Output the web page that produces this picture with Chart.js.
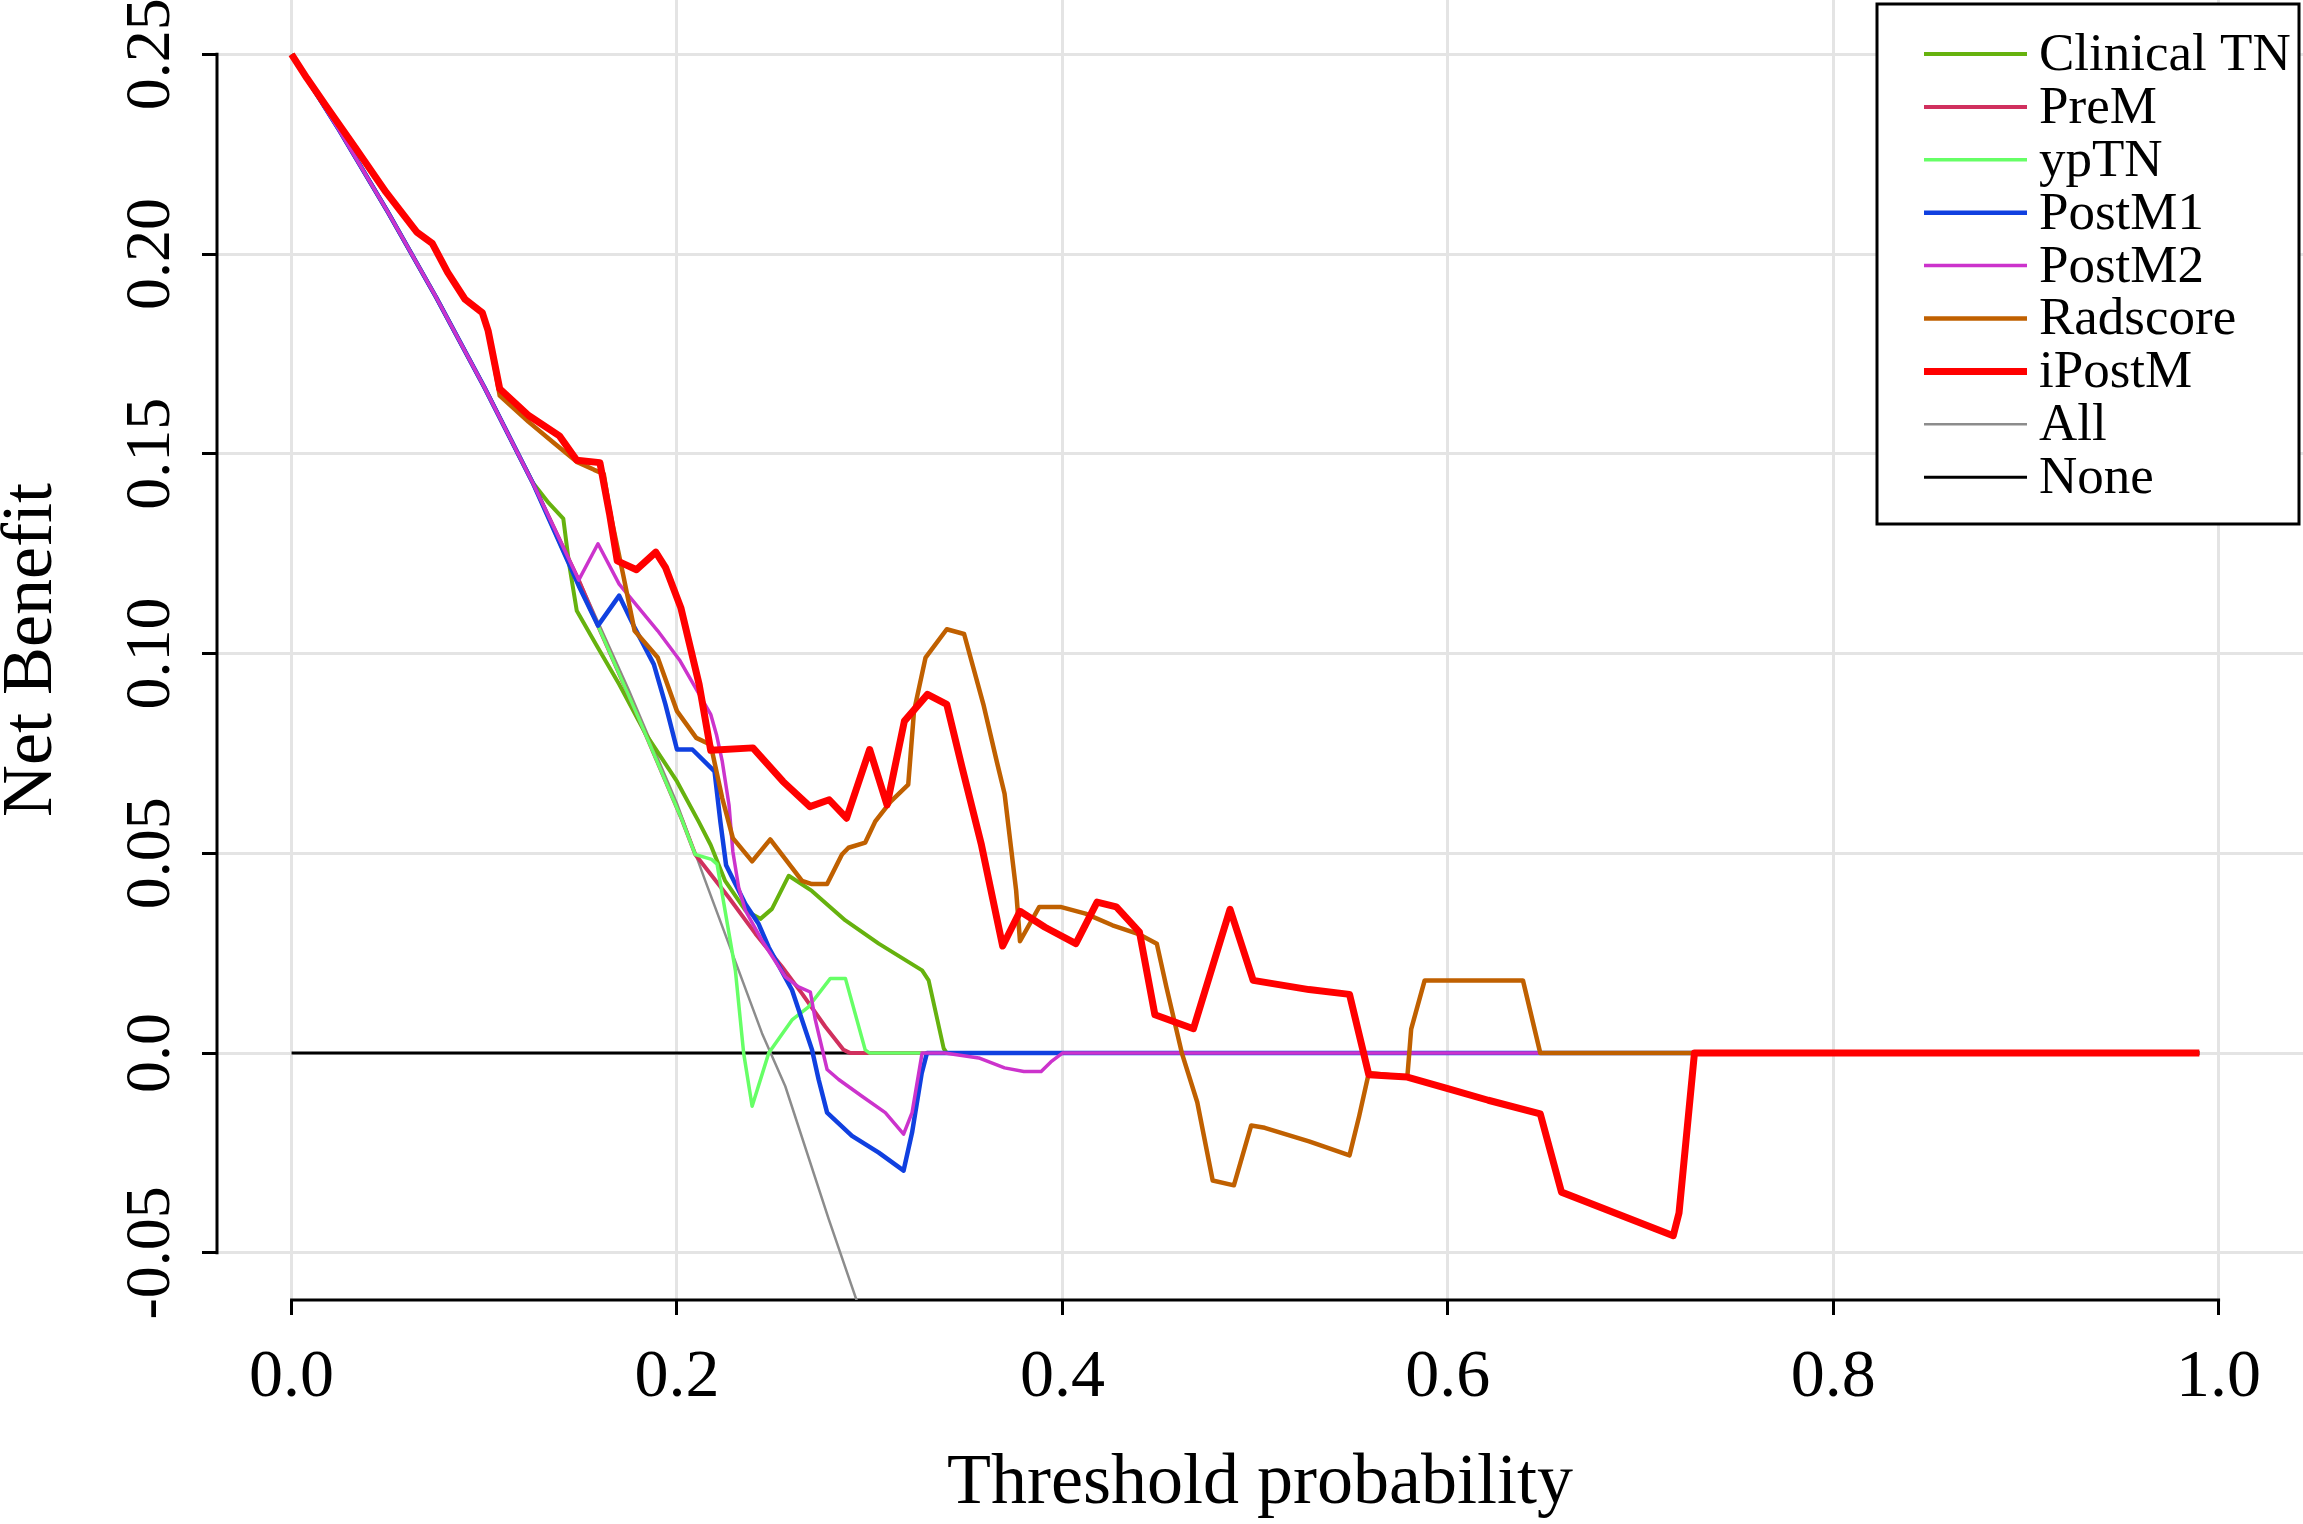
<!DOCTYPE html>
<html lang="en">
<head>
    <meta charset="UTF-8">
    <title>Decision curve</title>
    <script src="https://cdn.jsdelivr.net/npm/chart.js"></script>
    <style>
        html, body { margin: 0; padding: 0; background: #ffffff; }
        #wrap { width: 2303px; height: 1524px; position: relative; }
    </style>
</head>
<body>
    <div id="wrap"><canvas id="dca"></canvas></div>

    <script>
        // tick labels
        const xTicks = [0, 0.2, 0.4, 0.6, 0.8, 1.0];
        const yTicks = [-0.05, 0, 0.05, 0.10, 0.15, 0.20, 0.25];

        // series (threshold probability, net benefit)
        const clinicalX = [0, .025, .05, .075, .10, .125, .1334, .141, .144, .148, .158, .17, .184, .2, .2112, .2175, .225, .2355, .2433, .2493, .258, .27, .2874, .3047, .3272, .3306, .3384, .34, .99];
        const clinicalY = [.25, .2308, .2105, .1892, .1667, .1429, .1377, .1338, .1225, .1107, .1023, .0923, .0797, .068, .058, .0521, .0431, .0357, .0336, .0361, .0444, .0406, .0332, .0274, .0207, .0182, .0012, 0, 0];

        const premX = [0, .025, .05, .075, .10, .125, .149, .159, .18, .2026, .2095, .2268, .2407, .2545, .2649, .277, .2865, .29, .99];
        const premY = [.25, .2308, .2105, .1892, .1667, .1429, .1184, .107, .084, .0584, .0497, .039, .0299, .0216, .0149, .0066, .0008, 0, 0];

        const yptnX = [0, .025, .05, .075, .10, .125, .149, .159, .18, .2026, .2095, .218, .2208, .2303, .2346, .239, .2476, .2597, .2683, .2796, .2874, .2977, .30, .99];
        const yptnY = [.25, .2308, .2105, .1892, .1667, .1429, .117, .107, .084, .0584, .0497, .0485, .0473, .0207, 0, -.0133, 0, .0083, .0116, .0187, .0187, .0008, 0, 0];

        const postm1X = [0, .025, .05, .075, .10, .125, .149, .159, .17, .178, .188, .194, .2, .208, .2195, .2225, .2255, .2355, .2424, .2476, .2597, .2701, .2735, .2779, .2908, .3047, .3176, .322, .327, .3297, .99];
        const postm1Y = [.25, .2308, .2105, .1892, .1667, .1429, .117, .107, .1145, .1065, .0973, .0873, .076, .076, .0705, .058, .047, .0373, .0323, .0265, .0158, .0008, -.0066, -.0149, -.0207, -.0249, -.0294, -.0199, -.005, 0, 0];

        const postm2X = [0, .025, .05, .075, .10, .125, .149, .159, .17, .19, .2016, .2175, .2205, .2235, .227, .229, .232, .2355, .2441, .2562, .2631, .2692, .2718, .2779, .2839, .296, .3081, .3176, .322, .3272, .339, .3566, .37, .38, .389, .394, .40, .99];
        const postm2Y = [.25, .2308, .2105, .1892, .1667, .1429, .1184, .1275, .1174, .1057, .0982, .0848, .0797, .073, .0621, .0504, .0415, .0357, .0282, .0191, .0166, .0153, .0083, -.0041, -.0066, -.0108, -.0149, -.0203, -.0149, 0, 0, -.0012, -.0037, -.0046, -.0046, -.0022, 0, 0];

        const radX = [0, .008, .018, .033, .049, .065, .073, .081, .09, .099, .102, .108, .123, .136, .148, .157, .162, .165, .172, .178, .19, .2, .21, .2175, .2235, .229, .239, .2484, .2649, .27, .2779, .2856, .289, .2977, .3029, .311, .32, .323, .329, .34, .349, .359, .366, .37, .376, .378, .388, .399, .412, .426, .44, .449, .454, .462, .47, .478, .489, .498, .505, .528, .549, .554, .559, .579, .581, .588, .639, .648, .99];
        const radY = [.25, .244, .237, .2267, .2155, .2055, .2027, .1954, .1887, .1853, .1808, .1646, .158, .1528, .148, .146, .145, .136, .1199, .1057, .099, .0856, .0789, .0772, .0638, .0538, .048, .0535, .0431, .0423, .0423, .0497, .0514, .0527, .058, .063, .0672, .0856, .099, .1061, .1049, .0873, .0729, .0649, .0407, .028, .0366, .0366, .0349, .032, .0297, .0274, .0165, 0, -.0123, -.0319, -.0331, -.0181, -.0187, -.0221, -.0256, -.0158, -.005, -.006, .006, .0182, .0182, 0, 0];

        const ipostmX = [0, .008, .018, .033, .049, .065, .073, .081, .09, .099, .102, .108, .123, .139, .148, .16, .165, .169, .179, .189, .194, .202, .2115, .2175, .2394, .255, .269, .279, .288, .300, .309, .318, .330, .340, .348, .358, .369, .378, .391, .407, .418, .428, .44, .448, .468, .487, .499, .528, .549, .559, .579, .60, .621, .648, .659, .717, .72, .728, .99];
        const ipostmY = [.25, .244, .237, .2267, .2155, .2055, .2027, .1954, .1887, .1853, .1808, .1663, .1596, .1545, .1484, .1478, .135, .1232, .121, .1254, .1216, .1115, .0923, .0758, .0764, .068, .0617, .0634, .0588, .076, .0621, .0831, .0898, .0873, .0714, .0521, .0268, .0355, .0315, .0274, .0378, .0366, .0303, .0096, .0061, .036, .0182, .0159, .0147, -.0054, -.006, -.0089, -.0118, -.0152, -.0348, -.0457, -.040, 0, 0];

        const allX = [0, .025, .05, .075, .10, .125, .15, .175, .20, .2147, .232, .2441, .2562, .2787, .30];
        const allY = [.25, .2308, .2105, .1892, .1667, .1429, .1176, .0909, .0625, .0431, .0207, .005, -.0083, -.0415, -.0714];

        const noneX = [0, .99];
        const noneY = [0, 0];

        const labels = ['Clinical TN', 'PreM', 'ypTN', 'PostM1', 'PostM2', 'Radscore', 'iPostM', 'All', 'None'];
        const colors = ['#66b20e', '#d0305e', '#66ff66', '#1040e0', '#cc33cc', '#c06000', '#ff0000', '#8c8c8c', '#000000'];
        const widths = [4, 4, 3.5, 4.5, 3.5, 4.5, 7, 2.5, 3];
        const seriesX = [clinicalX, premX, yptnX, postm1X, postm2X, radX, ipostmX, allX, noneX];
        const seriesY = [clinicalY, premY, yptnY, postm1Y, postm2Y, radY, ipostmY, allY, noneY];
        // lower order is drawn on top: iPostM on top, None at the bottom
        const drawOrder = [7, 6, 5, 4, 3, 2, 1, 8, 9];

        const datasets = labels.map((name, i) => ({
            label: name,
            data: seriesX[i].map((x, j) => ({ x: x, y: seriesY[i][j] })),
            borderColor: colors[i],
            backgroundColor: colors[i],
            borderWidth: widths[i],
            pointRadius: 0,
            tension: 0,
            fill: false,
            borderJoinStyle: 'round',
            order: drawOrder[i]
        }));

        const serif = '"Liberation Serif", "Times New Roman", serif';
        Chart.defaults.font.family = serif;
        Chart.defaults.color = '#000';

        // R style axes: lines only across the tick range
        const axisLines = {
            id: 'axisLines',
            beforeDatasetsDraw(chart) {
                const { ctx, chartArea, scales } = chart;
                ctx.save();
                ctx.strokeStyle = '#000';
                ctx.lineWidth = 3;
                ctx.lineCap = 'square';
                ctx.beginPath();
                ctx.moveTo(scales.x.getPixelForValue(xTicks[0]), chartArea.bottom);
                ctx.lineTo(scales.x.getPixelForValue(xTicks[xTicks.length - 1]), chartArea.bottom);
                ctx.moveTo(chartArea.left, scales.y.getPixelForValue(yTicks[0]));
                ctx.lineTo(chartArea.left, scales.y.getPixelForValue(yTicks[yTicks.length - 1]));
                ctx.stroke();
                ctx.restore();
            }
        };

        // boxed legend in the top right corner
        const boxLegend = {
            id: 'boxLegend',
            afterDraw(chart) {
                const ctx = chart.ctx;
                const bx = 1877, by = 4, bw = 422, bh = 520;
                ctx.save();
                ctx.fillStyle = '#fff';
                ctx.fillRect(bx, by, bw, bh);
                ctx.strokeStyle = '#000';
                ctx.lineWidth = 3;
                ctx.strokeRect(bx, by, bw, bh);
                ctx.font = '53px ' + serif;
                ctx.textBaseline = 'middle';
                ctx.textAlign = 'left';
                chart.data.datasets.forEach((ds, i) => {
                    const ry = 54 + i * 52.9;
                    ctx.strokeStyle = ds.borderColor;
                    ctx.lineWidth = ds.borderWidth;
                    ctx.beginPath();
                    ctx.moveTo(1924, ry);
                    ctx.lineTo(2027, ry);
                    ctx.stroke();
                    ctx.fillStyle = '#000';
                    ctx.fillText(ds.label, 2039, ry + 2);
                });
                ctx.restore();
            }
        };

        const gridStyle = { color: '#e4e4e4', lineWidth: 3, tickColor: '#000', tickWidth: 3, tickLength: 15 };

        new Chart(document.getElementById('dca'), {
            type: 'line',
            data: { datasets: datasets },
            options: {
                responsive: true,
                maintainAspectRatio: false,
                devicePixelRatio: 1,
                animation: false,
                layout: { padding: 0 },
                plugins: {
                    legend: { display: false },
                    tooltip: { enabled: false }
                },
                scales: {
                    x: {
                        type: 'linear',
                        min: -0.0387,
                        max: 1.0438,
                        afterBuildTicks: s => { s.ticks = xTicks.map(v => ({ value: v })); },
                        afterFit: s => { s.height = 224; s.paddingLeft = 0; s.paddingRight = 0; },
                        grid: gridStyle,
                        border: { display: false },
                        ticks: {
                            autoSkip: false,
                            maxRotation: 0,
                            padding: 29,
                            font: { size: 68, lineHeight: 1 },
                            color: '#000',
                            callback: v => Number(v).toFixed(1)
                        },
                        title: {
                            display: true,
                            text: 'Threshold probability',
                            font: { size: 72, lineHeight: 1 },
                            color: '#000',
                            padding: { top: 0, bottom: 4 }
                        }
                    },
                    y: {
                        type: 'linear',
                        min: -0.0618,
                        max: 0.2636,
                        afterBuildTicks: s => { s.ticks = yTicks.map(v => ({ value: v })); },
                        afterFit: s => { s.width = 217; s.paddingTop = 0; s.paddingBottom = 0; },
                        grid: gridStyle,
                        border: { display: false },
                        ticks: {
                            autoSkip: false,
                            minRotation: 90,
                            maxRotation: 90,
                            crossAlign: 'center',
                            padding: -17,
                            font: { size: 64, lineHeight: 1 },
                            color: '#000',
                            callback: v => (Math.abs(v) < 1e-9 ? '0.0' : Number(v).toFixed(2))
                        },
                        title: {
                            display: true,
                            text: 'Net Benefit',
                            font: { size: 72, lineHeight: 1 },
                            color: '#000',
                            padding: { top: -4, bottom: 0 }
                        }
                    }
                }
            },
            plugins: [axisLines, boxLegend]
        });
    </script>
</body>
</html>
